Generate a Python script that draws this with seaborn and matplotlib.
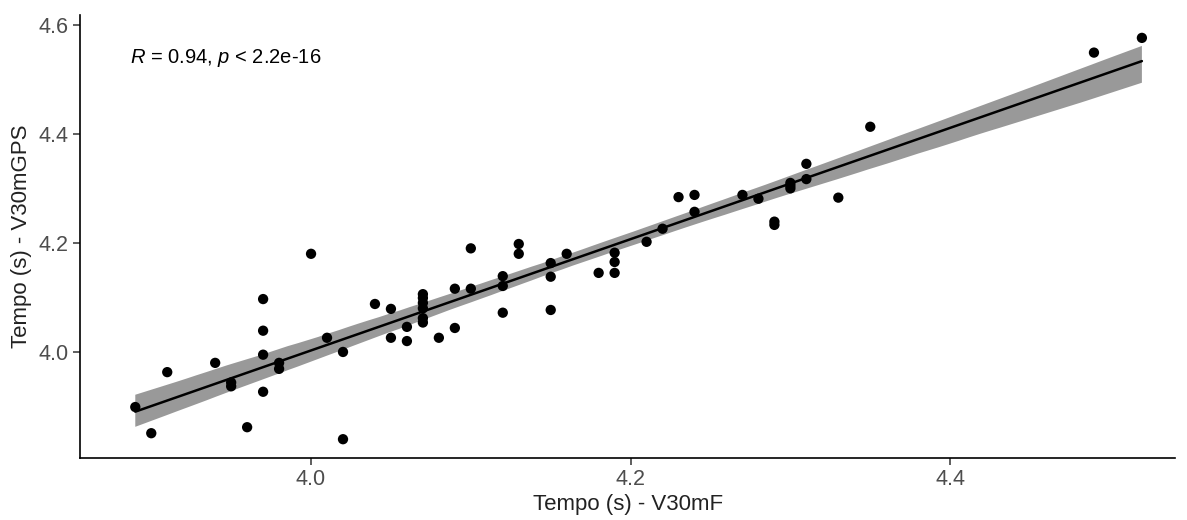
import numpy as np
import pandas as pd
import matplotlib
matplotlib.use("Agg")
import matplotlib.pyplot as plt
import seaborn as sns

# values
v30mf = [3.89, 3.90, 3.91, 3.94, 3.95, 3.95, 3.96,
         3.97, 3.97, 3.97, 3.97, 3.98, 3.98,
         4.00, 4.01, 4.02, 4.02, 4.04, 4.05, 4.05, 4.06, 4.06,
         4.07, 4.07, 4.07, 4.07, 4.07, 4.07,
         4.08, 4.09, 4.09, 4.10, 4.10, 4.12, 4.12, 4.12, 4.13, 4.13,
         4.15, 4.15, 4.15, 4.16, 4.18, 4.19, 4.19, 4.19, 4.21, 4.22,
         4.23, 4.24, 4.24, 4.27, 4.28, 4.29, 4.29, 4.30, 4.30, 4.30,
         4.31, 4.31, 4.33, 4.35, 4.49, 4.52]
v30mgps = [3.899, 3.851, 3.963, 3.980, 3.944, 3.937, 3.862,
           4.097, 4.039, 3.995, 3.927, 3.980, 3.969,
           4.180, 4.026, 4.000, 3.840, 4.088, 4.079, 4.026, 4.046, 4.020,
           4.106, 4.099, 4.090, 4.080, 4.062, 4.054,
           4.026, 4.116, 4.044, 4.190, 4.116, 4.139, 4.121, 4.072, 4.198, 4.180,
           4.163, 4.138, 4.077, 4.180, 4.145, 4.182, 4.165, 4.145, 4.202, 4.226,
           4.284, 4.288, 4.257, 4.288, 4.281, 4.239, 4.233, 4.310, 4.300, 4.305,
           4.345, 4.317, 4.283, 4.413, 4.549, 4.576]
x_ticks = [4.0, 4.2, 4.4]
y_ticks = [4.0, 4.2, 4.4, 4.6]

df = pd.DataFrame({"V30mF": v30mf, "V30mGPS": v30mgps})

sns.set_theme(style="ticks")
plt.rcParams["font.family"] = ["Liberation Sans", "DejaVu Sans"]
plt.rcParams["mathtext.fontset"] = "custom"
plt.rcParams["mathtext.it"] = "Liberation Sans:italic"
plt.rcParams["mathtext.rm"] = "Liberation Sans"

fig = plt.figure(figsize=(11.87, 5.2), dpi=100)
ax = fig.add_axes([0.0674, 0.1192, 0.9226, 0.852])

sns.regplot(data=df, x="V30mF", y="V30mGPS", ax=ax, ci=95, seed=1,
            scatter_kws={"s": 55, "color": "black", "edgecolors": "none", "alpha": 1, "zorder": 3},
            line_kws={"color": "black", "lw": 1.8, "zorder": 2})

# opaque grey confidence band like ggplot
for coll in ax.collections:
    if isinstance(coll, matplotlib.collections.PolyCollection):
        coll.set_facecolor("#999999")
        coll.set_edgecolor("none")
        coll.set_alpha(1)
        coll.set_zorder(1)

r = np.corrcoef(df["V30mF"], df["V30mGPS"])[0, 1]
ax.text(3.887, 4.539, r"$\it{R}$ = %.2f, $\it{p}$ < 2.2e-16" % r,
        fontsize=14.5, va="center", ha="left", color="black")

ax.set_xlim(3.8554, 4.5408)
ax.set_ylim(3.8055, 4.618)
ax.set_xticks(x_ticks)
ax.set_yticks(y_ticks)
ax.set_xticklabels([f"{t:.1f}" for t in x_ticks])
ax.set_yticklabels([f"{t:.1f}" for t in y_ticks])
ax.tick_params(axis="both", which="major", bottom=True, left=True, direction="out",
               labelsize=15.5, color="#333333", labelcolor="#4d4d4d",
               length=5, width=1.1, pad=3)
for s in ["left", "bottom"]:
    ax.spines[s].set_color("black")
    ax.spines[s].set_linewidth(1.2)
sns.despine(ax=ax)
ax.set_xlabel("Tempo (s) - V30mF", fontsize=16, color="#222222", labelpad=3)
ax.set_ylabel("Tempo (s) - V30mGPS", fontsize=16, color="#222222", labelpad=5)

fig.savefig("out.png", dpi=100)
